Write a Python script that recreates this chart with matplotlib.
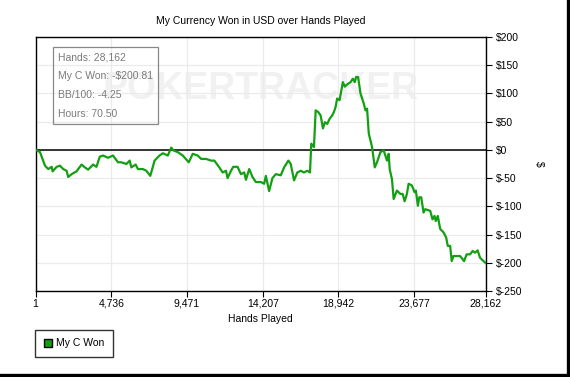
import matplotlib
matplotlib.use("Agg")
import matplotlib.pyplot as plt
from matplotlib.lines import Line2D
from matplotlib.ticker import FuncFormatter

# cumulative winnings (USD)
hands = [1, 275, 587, 792, 1003, 1066, 1316, 1521, 1727, 1939, 2038, 2250, 2562,
         2873, 3079, 3284, 3596, 3808, 4013, 4219, 4530, 4842, 5153, 5365, 5677,
         5882, 5988, 6256, 6399, 6711, 6923, 7172, 7440, 7751, 7957, 8268, 8480,
         8623, 8891, 9203, 9577, 9826, 10137, 10349, 10661, 10972, 11178, 11489,
         11695, 11907, 12006, 12218, 12361, 12629, 12841, 13047, 13153, 13358,
         13564, 13776, 14087, 14293, 14399, 14604, 14810, 15022, 15333, 15539,
         15807, 15956, 16162, 16367, 16579, 16785, 16990, 17159, 17240, 17408,
         17514, 17676, 17826, 17969, 18093, 18236, 18386, 18548, 18654, 18760,
         18859, 19009, 19108, 19214, 19339, 19482, 19694, 19837, 19962, 20043,
         20168, 20317, 20523, 20629, 20729, 20835, 21041, 21210, 21351, 21563,
         21769, 21975, 22080, 22143, 22286, 22392, 22597, 22809, 22952, 23077,
         23220, 23326, 23531, 23700, 23781, 23906, 23994, 24117, 24261, 24367,
         24678, 24821, 24946, 25027, 25152, 25301, 25507, 25675, 25775, 25924,
         26024, 26130, 26335, 26547, 26796, 26958, 27170, 27332, 27481, 27643,
         27793, 27936, 28162]
won = [0, -4, -28, -34, -30, -38, -30, -28, -34, -37, -48, -43, -38,
       -26, -31, -35, -26, -30, -12, -10, -14, -10, -22, -22, -25,
       -19, -31, -26, -34, -34, -37, -46, -19, -10, -6, -10, 4,
       -1, -4, -10, -22, -7, -10, -16, -16, -19, -19, -31,
       -40, -37, -50, -37, -30, -30, -43, -40, -53, -34,
       -48, -57, -57, -60, -46, -73, -50, -43, -45, -31,
       -19, -25, -54, -40, -37, -40, -37, -40, 11, 5,
       70, 67, 61, 38, 49, 46, 55, 61, 67, 76,
       91, 88, 103, 120, 112, 116, 120, 126, 120, 129,
       129, 100, 82, 70, 73, 29, 5, -31, -22, -4,
       -1, -19, -7, -34, -52, -87, -72, -78, -78, -91,
       -78, -60, -63, -75, -72, -99, -84, -84, -111, -105,
       -108, -123, -117, -126, -117, -140, -146, -155, -170, -170,
       -197, -188, -188, -188, -197, -185, -185, -179, -182, -178,
       -191, -195, -200.81]

x_ticks = [1, 4736, 9471, 14207, 18942, 23677, 28162]
y_ticks = [-250, -200, -150, -100, -50, 0, 50, 100, 150, 200]
info_lines = ["Hands: 28,162", "My C Won: -$200.81", "BB/100: -4.25", "Hours: 70.50"]

plt.rcParams['font.family'] = ['Liberation Sans', 'DejaVu Sans']
green = '#12a012'

fig = plt.figure(figsize=(5.7, 3.77), dpi=100)
ax = fig.add_axes([0.0625, 0.228, 0.79, 0.674])

# faint watermark behind everything
ax.text(0.5, 0.795, "POKERTRACKER", transform=ax.transAxes, ha='center', va='center',
        fontsize=27, fontweight='bold', color='#f1f1f1', zorder=0)

ax.plot(hands, won, color=green, lw=1.6, zorder=3, solid_joinstyle='round')
ax.axhline(0, color='black', lw=1.1, zorder=2)

ax.set_xlim(1, 28162)
ax.set_ylim(-250, 200)
ax.set_xticks(x_ticks)
ax.set_xticklabels([f"{t:,}" for t in x_ticks])
ax.set_yticks(y_ticks)
ax.yaxis.set_major_formatter(FuncFormatter(lambda v, p: f"${int(v)}"))
ax.yaxis.tick_right()
ax.yaxis.set_label_position('right')
ax.grid(True, color='#ebebeb', lw=0.9, zorder=0)
ax.set_axisbelow(True)

for s in ax.spines.values():
    s.set_color('black')
    s.set_linewidth(1.0)
ax.tick_params(axis='both', labelsize=7.5, length=4, width=0.8, colors='black')
ax.tick_params(axis='y', pad=3)
ax.tick_params(axis='x', pad=1.5)

ax.set_xlabel("Hands Played", fontsize=7.5, labelpad=4)
ax.set_ylabel("$", fontsize=7.5, labelpad=12, rotation=270, va='center')
ax.set_title("My Currency Won in USD over Hands Played", fontsize=7.5, pad=9)

# info box (transparent, watermark shows through)
ax.text(0.05, 0.94, "\n".join(info_lines), transform=ax.transAxes, ha='left', va='top',
        fontsize=7.5, color='#7a7a7a', linespacing=2.1, zorder=5,
        bbox=dict(boxstyle='square,pad=0.5', fc='none', ec='#888888', lw=0.9))

handle = Line2D([], [], marker='s', color='none', markerfacecolor=green,
                markeredgecolor='black', markersize=6)
fig.legend([handle], ["My C Won"], loc='upper left', bbox_to_anchor=(0.062, 0.125),
           frameon=True, fancybox=False, edgecolor='black', fontsize=7.5,
           handlelength=0.8, handletextpad=0.4, borderpad=0.8, borderaxespad=0)

# shadow border on right and bottom
fig.add_artist(Line2D([0.9965, 0.9965], [0.0, 1.0], transform=fig.transFigure,
                      color='black', lw=2.4))
fig.add_artist(Line2D([0.0, 1.0], [0.004, 0.004], transform=fig.transFigure,
                      color='black', lw=2.4))

fig.savefig("out.png", dpi=100)
